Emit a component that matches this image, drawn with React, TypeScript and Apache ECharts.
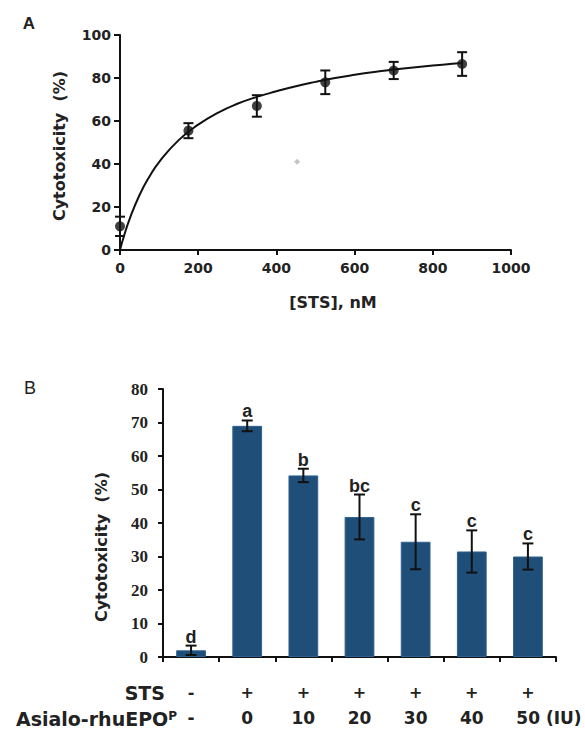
import React, { useEffect, useRef } from "react";
import * as echarts from "echarts";

// Panel A data
const aX = [0, 175, 350, 525, 700, 875];
const aY = [11, 55.5, 67, 78, 83.5, 86.5];
const aErr = [4.5, 3.5, 5, 5.5, 4, 5.5];
// fitted curve
const fitX = [0, 10, 25, 50, 75, 100, 150, 200, 250, 300, 350, 400, 450, 500, 550, 600, 650, 700, 750, 800, 850, 875];
const fitY = [0, 6.4, 14.6, 25.6, 34.1, 40.9, 51.1, 58.3, 63.8, 68, 71.2, 73.8, 76.2, 78.2, 80, 81.5, 82.8, 83.9, 84.9, 85.8, 86.6, 87];
const strayPoint = [[453, 41]];
const aXTicks = { min: 0, max: 1000, interval: 200 };
const aYTicks = { min: 0, max: 100, interval: 20 };

// Panel B data
const stsRow = ["-", "+", "+", "+", "+", "+", "+"];
const doseRow = ["-", "0", "10", "20", "30", "40", "50"];
const bVals = [2, 69, 54.2, 41.8, 34.4, 31.5, 30];
const bErr = [1.4, 1.6, 2, 6.7, 8.2, 6.3, 3.9];
const bLetters = ["d", "a", "b", "bc", "c", "c", "c"];
const bYTicks = { min: 0, max: 80, interval: 10 };

const SANS = "DejaVu Sans";
const BAR_COLOR = "#1f4e79";

export default function App() {
  const ref = useRef<HTMLDivElement>(null);
  useEffect(() => {
    if (!ref.current) return;
    const chart = echarts.init(ref.current, undefined, { renderer: "svg" });
    const axisLine = { show: true, onZero: false, lineStyle: { color: "#111", width: 2 } };
    const option: any = {
      animation: false,
      backgroundColor: "#fff",
      grid: [
        { left: 120, right: 74, top: 35, bottom: 481 },
        { left: 163, right: 29, top: 389, bottom: 72 },
      ],
      xAxis: [
        {
          gridIndex: 0,
          type: "value",
          ...aXTicks,
          axisLine,
          axisTick: { show: true, length: 5, lineStyle: { color: "#111", width: 2 } },
          axisLabel: { margin: 11, fontFamily: SANS, fontWeight: "bold", fontSize: 14, color: "#222", formatter: (v: number) => String(v) },
          splitLine: { show: false },
        },
        {
          gridIndex: 1,
          type: "category",
          data: doseRow.map((_, i) => String(i)),
          axisLine,
          axisTick: { show: true, length: 5, lineStyle: { color: "#111", width: 2 } },
          axisLabel: {
            margin: 22,
            interval: 0,
            lineHeight: 26,
            fontFamily: SANS,
            fontWeight: "bold",
            fontSize: 17,
            color: "#222",
            formatter: (_v: string, i: number) =>
              i === doseRow.length - 1
                ? `{s|${stsRow[i]}}\n{p|}{d|${doseRow[i]} (IU)}`
                : `{s|${stsRow[i]}}\n{d|${doseRow[i]}}`,
            rich: {
              s: { fontFamily: SANS, fontWeight: "bold", fontSize: 16, color: "#222", lineHeight: 26 },
              d: { fontFamily: SANS, fontWeight: "bold", fontSize: 17, color: "#222", lineHeight: 26 },
              p: { width: 42, lineHeight: 26 },
            },
          },
          splitLine: { show: false },
        },
      ],
      yAxis: [
        {
          gridIndex: 0,
          type: "value",
          ...aYTicks,
          axisLine,
          axisTick: { show: true, length: 6, lineStyle: { color: "#111", width: 2 } },
          axisLabel: { margin: 9, fontFamily: SANS, fontWeight: "bold", fontSize: 14, color: "#222" },
          splitLine: { show: false },
        },
        {
          gridIndex: 1,
          type: "value",
          ...bYTicks,
          axisLine,
          axisTick: { show: true, length: 5, lineStyle: { color: "#111", width: 2 } },
          axisLabel: { margin: 15, fontFamily: "Liberation Serif", fontWeight: "bold", fontSize: 17, color: "#222" },
          splitLine: { show: false },
        },
      ],
      series: [
        {
          type: "line",
          xAxisIndex: 0,
          yAxisIndex: 0,
          data: fitX.map((x, i) => [x, fitY[i]]),
          smooth: true,
          showSymbol: false,
          lineStyle: { color: "#111", width: 2 },
          z: 2,
        },
        {
          type: "custom",
          xAxisIndex: 0,
          yAxisIndex: 0,
          data: aX.map((x, i) => [x, aY[i], aErr[i]]),
          renderItem: (_p: any, api: any) => {
            const x = api.value(0), y = api.value(1), e = api.value(2);
            const top = api.coord([x, y + e]);
            const bot = api.coord([x, y - e]);
            const w = 5;
            const st = { stroke: "#111", lineWidth: 2 };
            return {
              type: "group",
              children: [
                { type: "line", shape: { x1: top[0], y1: top[1], x2: bot[0], y2: bot[1] }, style: st },
                { type: "line", shape: { x1: top[0] - w, y1: top[1], x2: top[0] + w, y2: top[1] }, style: st },
                { type: "line", shape: { x1: bot[0] - w, y1: bot[1], x2: bot[0] + w, y2: bot[1] }, style: st },
              ],
            };
          },
          z: 3,
        },
        {
          type: "scatter",
          xAxisIndex: 0,
          yAxisIndex: 0,
          data: aX.map((x, i) => [x, aY[i]]),
          symbol: "circle",
          symbolSize: 10,
          itemStyle: { color: "#111" },
          z: 4,
        },
        {
          type: "scatter",
          xAxisIndex: 0,
          yAxisIndex: 0,
          data: strayPoint,
          symbol: "diamond",
          symbolSize: 6,
          itemStyle: { color: "#b5b5b5" },
          z: 4,
        },
        {
          type: "bar",
          xAxisIndex: 1,
          yAxisIndex: 1,
          data: bVals,
          barWidth: "53%",
          itemStyle: { color: BAR_COLOR, borderColor: "#2e6190", borderWidth: 1 },
          z: 2,
        },
        {
          type: "custom",
          xAxisIndex: 1,
          yAxisIndex: 1,
          data: bVals.map((v, i) => [i, v, bErr[i]]),
          renderItem: (p: any, api: any) => {
            const i = api.value(0), v = api.value(1), e = api.value(2);
            const top = api.coord([i, v + e]);
            const bot = api.coord([i, v - e]);
            const w = 5.5;
            const st = { stroke: "#111", lineWidth: 2 };
            return {
              type: "group",
              children: [
                { type: "line", shape: { x1: top[0], y1: top[1], x2: bot[0], y2: bot[1] }, style: st },
                { type: "line", shape: { x1: top[0] - w, y1: top[1], x2: top[0] + w, y2: top[1] }, style: st },
                { type: "line", shape: { x1: bot[0] - w, y1: bot[1], x2: bot[0] + w, y2: bot[1] }, style: st },
                {
                  type: "text",
                  style: {
                    text: bLetters[p.dataIndex],
                    x: top[0],
                    y: top[1],
                    align: "center",
                    verticalAlign: "bottom",
                    textAlign: "center",
                    textVerticalAlign: "bottom",
                    fontFamily: "Liberation Sans",
                    fontWeight: "bold",
                    fontSize: 18,
                    fill: "#222",
                  },
                },
              ],
            };
          },
          z: 3,
        },
      ],
      graphic: [
        { type: "text", x: 29, y: 23, style: { text: "A", fontFamily: "Liberation Sans", fontWeight: "bold", fontSize: 17, fill: "#222", textAlign: "center", textVerticalAlign: "middle" } },
        { type: "text", x: 30, y: 388, style: { text: "B", fontFamily: "Liberation Sans", fontSize: 18, fill: "#222", textAlign: "center", textVerticalAlign: "middle" } },
        { type: "text", x: 59, y: 146, rotation: Math.PI / 2, style: { text: "Cytotoxicity  (%)", fontFamily: SANS, fontWeight: "bold", fontSize: 16, fill: "#222", textAlign: "center", textVerticalAlign: "middle" } },
        { type: "text", x: 101, y: 547, rotation: Math.PI / 2, style: { text: "Cytotoxicity  (%)", fontFamily: SANS, fontWeight: "bold", fontSize: 16, fill: "#222", textAlign: "center", textVerticalAlign: "middle" } },
        { type: "text", x: 333, y: 302, style: { text: "[STS], nM", fontFamily: SANS, fontWeight: "bold", fontSize: 16, fill: "#222", textAlign: "center", textVerticalAlign: "middle" } },
        { type: "text", x: 165, y: 693, style: { text: "STS", fontFamily: SANS, fontWeight: "bold", fontSize: 19, fill: "#222", textAlign: "right", textVerticalAlign: "middle" } },
        {
          type: "text",
          x: 177,
          y: 719,
          style: {
            text: "Asialo-rhuEPO{sup|P}",
            fontFamily: SANS,
            fontWeight: "bold",
            fontSize: 19,
            fill: "#222",
            textAlign: "right",
            textVerticalAlign: "middle",
            rich: { sup: { fontFamily: SANS, fontWeight: "bold", fontSize: 12, fill: "#222", verticalAlign: "top" } },
          },
        },
      ],
    };
    chart.setOption(option);
    return () => chart.dispose();
  }, []);
  return <div ref={ref} style={{ position: "absolute", left: 0, top: 0, width: 585, height: 731 }} />;
}
